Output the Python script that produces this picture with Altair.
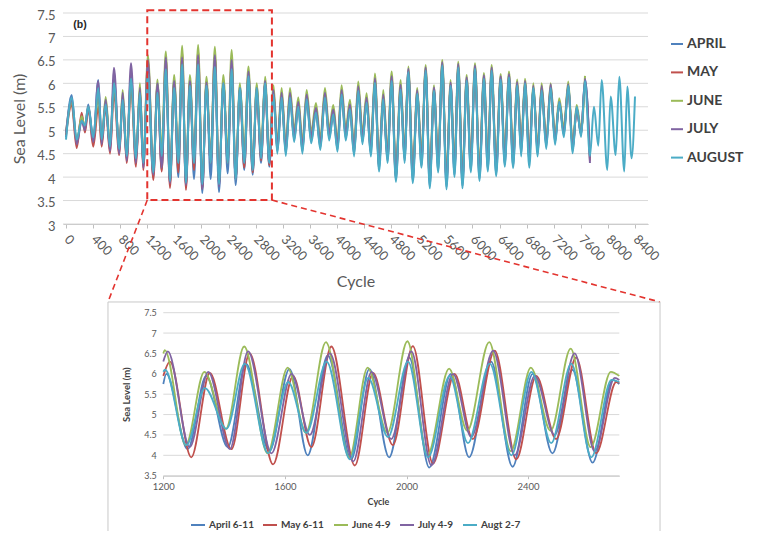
import altair as alt
import pandas as pd

# ---------------- main chart data ----------------
MONTHS = ["APRIL", "MAY", "JUNE", "JULY", "AUGUST"]
COLORS = ["#4F81BD", "#C0504D", "#9BBB59", "#8064A2", "#4BACC6"]

MAIN_CYCLES = [
    0, 84, 158, 232, 280, 329, 403, 477, 527, 586, 650, 709, 787, 837, 896, 960, 1033, 1092, 1141,
    1210, 1289, 1351, 1413, 1474, 1535, 1597, 1658, 1715, 1771, 1830, 1890, 1951, 2012, 2074, 2136,
    2198, 2259, 2323, 2387, 2446, 2505, 2568, 2632, 2694, 2756, 2817, 2879, 2940, 3001,
    3063, 3120, 3184, 3245, 3307, 3368, 3430, 3490, 3553, 3620, 3690, 3755, 3823, 3885, 3946, 4008,
    4069, 4130, 4192, 4253, 4315, 4376, 4438, 4500, 4561, 4622, 4684, 4746, 4808, 4870, 4941, 4998,
    5054, 5120, 5186, 5248, 5310, 5370, 5433, 5494, 5555, 5617, 5679, 5735, 5791, 5853, 5915, 5976,
    6038, 6104, 6170, 6227, 6284, 6350, 6417, 6478, 6540, 6600, 6662, 6720,
    6776, 6840, 6899, 6963, 7022, 7090, 7155, 7220, 7282, 7350, 7415, 7480, 7539, 7605, 7662, 7735,
    7794, 7858, 7908, 7991, 8041, 8115, 8168, 8242, 8286, 8350, 8400,
]

APRIL = (
    [4.85, 5.75, 4.75, 5.25, 5.05, 5.55, 4.8, 6.07, 4.75, 5.6, 4.6, 6.1, 4.6, 5.7, 4.4, 6.2, 4.35, 5.85, 4.25]
    + [6.15, 4.0, 6.0, 4.15, 6.3, 3.85, 6.1, 4.0, 6.45, 3.8, 6.1, 3.96, 6.45, 3.66, 6.05, 3.96, 6.35, 3.68,
       6.05, 4.08, 6.25, 3.83, 5.95, 4.15, 6.1, 4.05, 5.95, 4.3, 6.0, 4.22]
    + [5.76, 4.55, 5.7, 4.5, 5.7, 4.8, 5.5, 4.55, 5.66, 4.77, 5.38, 4.63, 5.7, 4.83, 5.34, 4.59, 5.76, 4.83,
       5.45, 4.49, 5.84, 4.75, 5.59, 4.49, 6.01, 4.17, 5.66, 4.35, 6.05, 3.95, 5.87, 4.35]
    + [6.26, 3.92, 5.8, 4.25, 6.29, 3.81, 5.86, 4.15, 6.4, 3.79, 5.97, 4.05, 6.36, 3.81, 6.08, 4.15, 6.33, 3.97,
       6.12, 4.17, 6.29, 4.07, 6.1, 4.27, 6.15, 4.24, 5.98, 4.49]
    + [6.02, 4.35, 5.92, 4.49, 5.92, 4.65, 5.92, 4.74, 5.6, 4.9, 5.96, 4.56, 5.46, 4.91, 6.08, 4.4]
)
MAY = (
    [4.9, 5.54, 4.62, 5.37, 4.95, 5.45, 4.65, 5.5, 4.65, 5.5, 4.5, 5.8, 4.47, 5.7, 4.3, 5.95, 4.22, 5.8, 4.15]
    + [6.45, 3.94, 5.96, 4.12, 6.55, 3.77, 6.02, 4.1, 6.68, 3.73, 6.02, 4.15, 6.7, 3.75, 6.0, 4.3, 6.6, 3.85,
       6.0, 4.3, 6.45, 3.95, 5.85, 4.2, 6.2, 4.1, 5.85, 4.35, 6.0, 4.25]
    + [5.81, 4.6, 5.75, 4.55, 5.75, 4.85, 5.55, 4.6, 5.71, 4.82, 5.43, 4.68, 5.75, 4.88, 5.39, 4.64, 5.81, 4.88,
       5.5, 4.54, 5.89, 4.8, 5.64, 4.54, 6.06, 4.22, 5.71, 4.4, 6.1, 4.0, 5.92, 4.4]
    + [6.21, 4.07, 5.75, 4.4, 6.24, 3.96, 5.81, 4.3, 6.35, 3.94, 5.92, 4.2, 6.31, 3.96, 6.03, 4.3, 6.28, 4.12,
       6.07, 4.32, 6.24, 4.22, 6.05, 4.42, 6.1, 4.39, 5.93, 4.64]
    + [5.98, 4.5, 5.88, 4.59, 5.88, 4.75, 5.88, 4.84, 5.56, 5.0, 5.92, 4.66, 5.42, 4.95, 6.0, 4.35]
)
JUNE = (
    [4.95, 5.6, 4.75, 5.3, 5.05, 5.5, 4.8, 5.7, 4.8, 5.71, 4.7, 6.0, 4.65, 5.86, 4.5, 6.1, 4.45, 6.0, 4.3]
    + [6.6, 4.14, 6.08, 4.57, 6.68, 3.97, 6.18, 4.43, 6.8, 3.93, 6.18, 4.39, 6.82, 3.86, 6.14, 4.39, 6.78, 3.88,
       6.18, 4.5, 6.71, 4.03, 6.0, 4.6, 6.36, 4.25, 6.0, 4.6, 6.14, 4.4]
    + [5.96, 4.75, 5.9, 4.7, 5.9, 5.0, 5.7, 4.75, 5.86, 4.97, 5.58, 4.83, 5.9, 5.03, 5.54, 4.79, 5.96, 5.03,
       5.65, 4.69, 6.04, 4.95, 5.79, 4.69, 6.21, 4.37, 5.86, 4.55, 6.25, 4.15, 6.07, 4.55]
    + [6.36, 4.17, 5.9, 4.5, 6.39, 4.06, 5.96, 4.4, 6.5, 4.04, 6.07, 4.3, 6.46, 4.06, 6.18, 4.4, 6.43, 4.22,
       6.22, 4.42, 6.39, 4.32, 6.2, 4.52, 6.25, 4.49, 6.08, 4.74]
    + [6.1, 4.55, 6.0, 4.64, 6.0, 4.8, 6.0, 4.89, 5.68, 5.05, 6.04, 4.71, 5.54, 5.0, 6.16]
)
JULY = (
    [4.95, 5.65, 4.7, 5.2, 5.0, 5.5, 4.75, 6.05, 4.7, 5.65, 4.55, 6.33, 4.5, 5.8, 4.35, 6.43, 4.3, 5.9, 4.2]
    + [6.5, 4.05, 6.0, 4.2, 6.55, 3.87, 6.05, 4.3, 6.55, 3.83, 6.05, 4.3, 6.6, 3.75, 6.02, 4.3, 6.6, 3.8,
       6.0, 4.35, 6.5, 3.95, 5.9, 4.3, 6.25, 4.15, 5.9, 4.4, 6.05, 4.3]
    + [5.86, 4.65, 5.8, 4.6, 5.8, 4.9, 5.6, 4.65, 5.76, 4.87, 5.48, 4.73, 5.8, 4.93, 5.44, 4.69, 5.86, 4.93,
       5.55, 4.59, 5.94, 4.85, 5.69, 4.59, 6.11, 4.27, 5.76, 4.45, 6.15, 4.05, 5.97, 4.45]
    + [6.31, 4.02, 5.85, 4.35, 6.34, 3.91, 5.91, 4.25, 6.45, 3.89, 6.02, 4.15, 6.41, 3.91, 6.13, 4.25, 6.38, 4.07,
       6.17, 4.27, 6.34, 4.17, 6.15, 4.37, 6.2, 4.34, 6.03, 4.59]
    + [6.05, 4.45, 5.95, 4.54, 5.95, 4.7, 5.98, 4.79, 5.6, 4.95, 5.98, 4.61, 5.48, 4.9, 6.1, 4.3]
)
AUGUST = (
    [4.8, 5.7, 4.8, 5.2, 5.1, 5.5, 4.85, 5.9, 4.8, 5.55, 4.65, 6.0, 4.6, 5.65, 4.45, 6.1, 4.4, 5.8, 4.3]
    + [6.2, 4.1, 5.8, 4.45, 6.3, 3.92, 5.9, 4.3, 6.4, 3.88, 5.95, 4.3, 6.4, 3.85, 5.95, 4.3, 6.35, 3.85,
       6.0, 4.3, 6.3, 3.95, 5.9, 4.3, 6.15, 4.15, 5.9, 4.4, 6.0, 4.3]
    + [5.76, 4.5, 5.7, 4.45, 5.7, 4.75, 5.5, 4.5, 5.66, 4.72, 5.38, 4.58, 5.7, 4.78, 5.34, 4.54, 5.76, 4.78,
       5.45, 4.44, 5.84, 4.7, 5.59, 4.44, 6.01, 4.12, 5.66, 4.3, 6.05, 3.9, 5.87, 4.3]
    + [6.24, 3.87, 5.78, 4.2, 6.27, 3.76, 5.84, 4.1, 6.38, 3.74, 5.95, 4.0, 6.34, 3.76, 6.06, 4.1, 6.31, 3.92,
       6.1, 4.12, 6.27, 4.02, 6.08, 4.22, 6.13, 4.19, 5.96, 4.44]
    + [6.0, 4.2, 5.9, 4.44, 5.85, 4.6, 5.9, 4.69, 5.6, 4.85, 5.95, 4.51, 5.5, 4.86, 6.05, 4.45, 5.5, 4.67,
       6.07, 4.15, 5.72, 4.47, 6.14, 4.12, 5.93, 4.4, 5.72]
)
MAIN_SERIES = [APRIL, MAY, JUNE, JULY, AUGUST]

# ---------------- inset data ----------------
INSET_NAMES = ["April 6-11", "May 6-11", "June 4-9", "July 4-9", "Augt 2-7"]
IN_APRIL_C = [1200, 1210, 1280, 1341, 1412, 1472, 1549, 1615, 1675, 1741, 1818, 1878, 1943, 2009, 2075,
              2146, 2206, 2278, 2349, 2415, 2480, 2546, 2612, 2678, 2700]
IN_APRIL_V = [5.75, 6.0, 4.15, 5.95, 4.2, 6.25, 4.1, 6.12, 4.0, 6.45, 3.9, 6.12, 3.95, 6.4, 3.7,
              6.0, 3.95, 6.3, 3.72, 6.0, 4.05, 6.1, 3.82, 5.85, 5.75]
IN_MAY_C = [1200, 1222, 1292, 1353, 1424, 1484, 1561, 1627, 1687, 1753, 1830, 1890, 1955, 2021, 2087,
            2158, 2218, 2290, 2361, 2427, 2492, 2558, 2624, 2690, 2700]
IN_MAY_V = [5.95, 6.3, 3.95, 6.02, 4.15, 6.5, 3.78, 5.95, 4.2, 6.67, 3.75, 6.02, 4.25, 6.68, 3.8,
            6.0, 4.4, 6.57, 3.9, 5.95, 4.4, 6.4, 4.05, 5.8, 5.78]
IN_JUNE_C = [1200, 1205, 1274, 1335, 1406, 1466, 1543, 1609, 1669, 1735, 1812, 1872, 1937, 2003, 2069,
             2140, 2200, 2272, 2343, 2409, 2474, 2540, 2606, 2672, 2700]
IN_JUNE_V = [6.5, 6.58, 4.25, 6.05, 4.65, 6.67, 4.05, 6.15, 4.55, 6.78, 3.95, 6.15, 4.55, 6.8, 4.0,
             6.13, 4.6, 6.78, 4.1, 6.15, 4.6, 6.62, 4.2, 6.05, 5.95]
IN_JULY_C = [1200, 1215, 1287, 1348, 1419, 1479, 1556, 1622, 1682, 1748, 1825, 1885, 1950, 2016, 2082,
             2153, 2213, 2285, 2356, 2422, 2487, 2553, 2619, 2685, 2700]
IN_JULY_V = [6.3, 6.55, 4.2, 6.05, 4.15, 6.55, 4.05, 6.0, 4.5, 6.5, 3.85, 6.05, 4.4, 6.55, 3.75,
             6.0, 4.45, 6.57, 4.0, 5.95, 4.5, 6.5, 4.1, 5.9, 5.85]
IN_AUG_C = [1200, 1206, 1276, 1337, 1408, 1468, 1545, 1611, 1671, 1737, 1814, 1874, 1939, 2005, 2071,
            2142, 2202, 2274, 2345, 2411, 2476, 2542, 2608, 2674, 2700]
IN_AUG_V = [6.05, 6.1, 4.25, 5.65, 4.65, 6.25, 4.05, 5.8, 4.55, 6.3, 3.9, 5.9, 4.45, 6.3, 3.95,
            5.95, 4.3, 6.25, 4.0, 6.05, 4.3, 6.25, 3.95, 5.85, 5.8]
INSET_SERIES = [(IN_APRIL_C, IN_APRIL_V), (IN_MAY_C, IN_MAY_V), (IN_JUNE_C, IN_JUNE_V),
                (IN_JULY_C, IN_JULY_V), (IN_AUG_C, IN_AUG_V)]

MAIN_Y_TICKS = [3, 3.5, 4, 4.5, 5, 5.5, 6, 6.5, 7, 7.5]
MAIN_X_TICKS = list(range(0, 8401, 400))
INSET_Y_TICKS = [3.5, 4, 4.5, 5, 5.5, 6, 6.5, 7, 7.5]
INSET_X_TICKS = [1200, 1600, 2000, 2400]

# zoom box (main coordinates) and inset frame (inset coordinates)
BOX = dict(x0=1200, x1=3040, y0=3.51, y1=7.56)
CONNECT = dict(x0=[1200, 3040], y0=[3.51, 3.51], x1=[620, 8769], y1=[1.337, 1.337])
FRAME = dict(x0=1018, x1=2834, y0=1.9, y1=7.763)

# ---------------- layout (pixels in the chart area) ----------------
W, H = 741, 523
MXS = alt.Scale(domain=[-44, 8592], range=[55, 640], nice=False, zero=False)
MYS = alt.Scale(domain=[3, 7.5], range=[216, 5], nice=False, zero=False)
IXS = alt.Scale(domain=[1200, 2700], range=[155.3, 611.3], nice=False, zero=False)
IYS = alt.Scale(domain=[3.5, 7.5], range=[467.7, 304.7], nice=False, zero=False)

FONT = "Lato"
GRAY = "#595959"

MXA = alt.Axis(orient="bottom", offset=216 - H, values=MAIN_X_TICKS, format="d", labelAngle=45,
               labelAlign="left", labelBaseline="middle", labelPadding=9, labelFontSize=13, labelFont=FONT,
               labelColor=GRAY, tickSize=4, tickColor="#bfbfbf", domainColor="#bfbfbf", grid=False,
               title="Cycle", titleFont=FONT, titleFontSize=16, titleFontWeight="normal", titleColor=GRAY,
               titlePadding=10, labelOverlap=False, labelFlush=False)
MYA = alt.Axis(orient="left", offset=-55, values=MAIN_Y_TICKS, format="~g", labelPadding=8, labelOffset=2,
               labelFontSize=13, labelFont=FONT, labelColor=GRAY, ticks=False, domain=False, grid=False,
               title="Sea Level (m)", titleFont=FONT, titleFontSize=16, titleFontWeight="normal",
               titleColor=GRAY, titlePadding=9, labelOverlap=False, labelFlush=False)
IXA = alt.Axis(orient="bottom", offset=467.7 - H, values=INSET_X_TICKS, format="d", labelAngle=0,
               labelPadding=3, labelFontSize=9.5, labelFont=FONT, labelColor=GRAY, tickSize=3,
               tickColor="#bfbfbf", domainColor="#bfbfbf", grid=False, title="Cycle", titleFont=FONT,
               titleFontSize=9, titleFontWeight="bold", titleColor="#404040", titlePadding=6,
               titleX=370, titleAnchor="start", titleAlign="center", labelFlush=False)
IYA = alt.Axis(orient="left", offset=-155.3, values=INSET_Y_TICKS, format="~g", labelPadding=7,
               labelFontSize=9, labelFont=FONT, labelColor=GRAY, ticks=False, domain=False, grid=False,
               title="Sea Level (m)", titleFont=FONT, titleFontSize=9.5, titleFontWeight="bold",
               titleColor="#404040", titlePadding=12, labelFlush=False)

MAIN_LEGEND = alt.Legend(orient="none", legendX=662, legendY=29, title=None, symbolType="stroke",
                         symbolSize=144, symbolStrokeWidth=2, labelFont=FONT, labelFontSize=14,
                         labelFontWeight="bold", labelColor="#404040", rowPadding=14.4, labelOffset=3,
                         padding=0, labelLimit=100)
INSET_LEGEND = alt.Legend(orient="none", legendX=182, legendY=509, direction="horizontal", title=None,
                          symbolType="stroke", symbolSize=196, symbolStrokeWidth=2, labelFont=FONT,
                          labelFontSize=10, labelFontWeight="bold", labelColor="#404040",
                          columnPadding=5, labelOffset=3, padding=0)


def mx(f):
    return alt.X(f, type="quantitative", scale=MXS, axis=MXA)


def my(f):
    return alt.Y(f, type="quantitative", scale=MYS, axis=MYA)


def ix(f):
    return alt.X(f, type="quantitative", scale=IXS, axis=IXA)


def iy(f):
    return alt.Y(f, type="quantitative", scale=IYS, axis=IYA)


# ---------------- main panel ----------------
main_grid = alt.Chart(pd.DataFrame({"level": MAIN_Y_TICKS, "gx0": -44, "gx1": 8592})).mark_rule(
    color="#d9d9d9", strokeWidth=1).encode(x=mx("gx0"), x2="gx1", y=my("level"))

main_color = alt.Color("month:N", scale=alt.Scale(domain=MONTHS, range=COLORS), legend=MAIN_LEGEND)
main_lines = []
for name, vals in zip(MONTHS, MAIN_SERIES):
    d = pd.DataFrame({"cycle": MAIN_CYCLES[:len(vals)], "level": vals, "month": name})
    main_lines.append(alt.Chart(d).mark_line(interpolate="monotone", strokeWidth=2).encode(
        x=mx("cycle"), y=my("level"), color=main_color))

box = alt.Chart(pd.DataFrame([BOX])).mark_rect(filled=False, stroke="#e3342f", strokeWidth=2,
                                                 strokeDash=[7, 4]).encode(
    x=mx("x0"), x2="x1", y=my("y0"), y2="y1")
connect = alt.Chart(pd.DataFrame(CONNECT)).mark_rule(color="#e3342f", strokeWidth=1.6,
                                                      strokeDash=[6, 4]).encode(
    x=mx("x0"), x2="x1", y=my("y0"), y2="y1")
label_b = alt.Chart(pd.DataFrame({"x": [207], "y": [7.24], "t": ["(b)"]})).mark_text(
    font="Liberation Sans", fontSize=10.5, fontWeight="bold", color="#262626").encode(
    x=mx("x"), y=my("y"), text="t:N")

main_panel = alt.layer(main_grid, *main_lines, box, connect, label_b)

# ---------------- inset panel ----------------
frame = alt.Chart(pd.DataFrame([FRAME])).mark_rect(filled=False, stroke="#c8c8c8", strokeWidth=1).encode(
    x=ix("x0"), x2="x1", y=iy("y0"), y2="y1")
inset_grid = alt.Chart(pd.DataFrame({"level": INSET_Y_TICKS, "gx0": 1200, "gx1": 2700})).mark_rule(
    color="#d9d9d9", strokeWidth=1).encode(x=ix("gx0"), x2="gx1", y=iy("level"))
inset_color = alt.Color("series:N", scale=alt.Scale(domain=INSET_NAMES, range=COLORS), legend=INSET_LEGEND)
inset_lines = []
for name, (cs, vs) in zip(INSET_NAMES, INSET_SERIES):
    d = pd.DataFrame({"cycle": cs, "level": vs, "series": name})
    inset_lines.append(alt.Chart(d).mark_line(interpolate="monotone", strokeWidth=1.8).encode(
        x=ix("cycle"), y=iy("level"), color=inset_color))

inset_panel = alt.layer(frame, inset_grid, *inset_lines)

chart = alt.layer(main_panel, inset_panel).resolve_scale(
    x="independent", y="independent", color="independent").properties(
    width=W, height=H, autosize=alt.AutoSizeParams(type="none"), padding=0
).configure_view(strokeWidth=0)

chart.save("out.html", embed_options={"renderer": "svg", "actions": False})
